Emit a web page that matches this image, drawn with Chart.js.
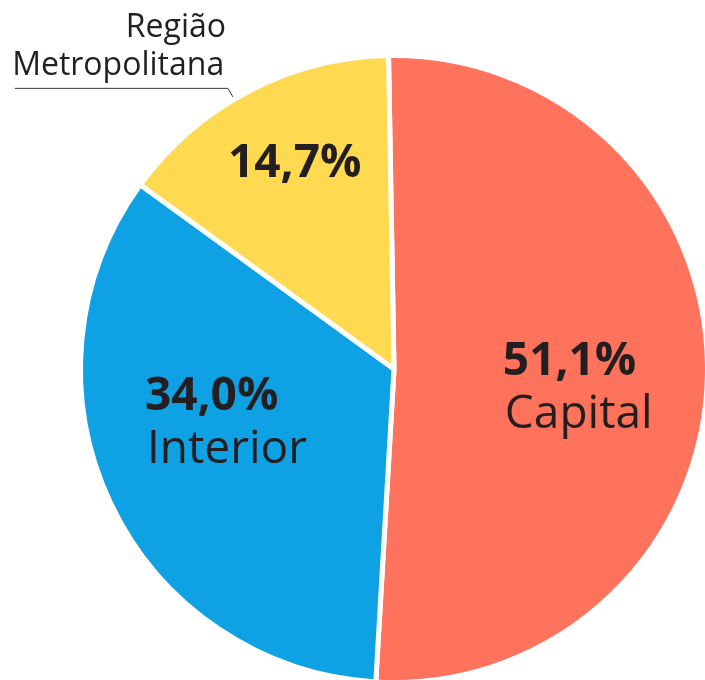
<!DOCTYPE html>
<html>

<head>
    <meta charset="utf-8">
    <title>Distribuição por região</title>
    <script src="https://cdn.jsdelivr.net/npm/chart.js@4.4.6/dist/chart.umd.min.js"></script>
    <style>
        body { margin: 0; overflow: hidden; background: #fff; }
        #wrap { position: absolute; left: 0; top: 0; width: 720px; height: 700px; }
    </style>
</head>

<body>
    <div id="wrap"><canvas id="myChart"></canvas></div>
    <script>
        const categories = ["Capital", "Interior", "Região Metropolitana"]
        const values = [51.1, 34.0, 14.7]
        const colors = ["#FF725C", "#0EA1E4", "#FFD94F"]
        const INK = "#231F20"
        const FONT = "'Open Sans', 'Noto Sans', sans-serif"

        const fmt = v => v.toFixed(1).replace(".", ",") + "%"

        // label placement relative to pie centre, in units of the radius
        const inside = [
            { x: 0.350, y: 0.019, name: "Capital" },
            { x: -0.801, y: 0.132, name: "Interior" },
            { x: -0.534, y: -0.617, name: null },
        ]

        const labelPlugin = {
            id: "sliceLabels",
            afterDraw(chart) {
                const meta = chart.getDatasetMeta(0)
                const first = meta.data[0]
                const cx = first.x, cy = first.y
                const r = 311
                const ctx = chart.ctx
                ctx.save()
                ctx.fillStyle = INK
                ctx.textBaseline = "alphabetic"
                ctx.textAlign = "left"
                values.forEach((v, i) => {
                    const p = inside[i]
                    const x = cx + p.x * r
                    const y = cy + p.y * r
                    ctx.font = "bold 46px " + FONT
                    ctx.fillText(fmt(v), x, y)
                    if (p.name) {
                        ctx.font = "46px " + FONT
                        ctx.fillText(p.name, x + 2, y + 53)
                    }
                })
                // outside label for the small slice
                ctx.textAlign = "right"
                ctx.font = "32px " + FONT
                ctx.fillText("Região", cx - 0.540 * r, cy - 1.068 * r)
                ctx.fillText("Metropolitana", cx - 0.546 * r, cy - 0.945 * r)
                ctx.strokeStyle = "#3a3536"
                ctx.lineWidth = 1
                ctx.beginPath()
                ctx.moveTo(cx - 1.219 * r, cy - 0.904 * r + 0.5)
                ctx.lineTo(cx - 0.534 * r, cy - 0.904 * r + 0.5)
                ctx.lineTo(cx - 0.518 * r, cy - 0.875 * r)
                ctx.stroke()
                ctx.restore()
            }
        }

        new Chart(document.getElementById("myChart"), {
            type: "pie",
            data: {
                labels: categories,
                datasets: [{
                    data: values,
                    backgroundColor: colors,
                    borderColor: "#ffffff",
                    borderWidth: 5,
                }],
            },
            options: {
                responsive: true,
                maintainAspectRatio: false,
                animation: false,
                rotation: -1,
                layout: {
                    padding: { left: 78, top: 53, right: 10, bottom: 15 },
                },
                plugins: {
                    legend: { display: false },
                    tooltip: { enabled: false },
                },
            },
            plugins: [labelPlugin],
        })
    </script>
</body>

</html>
